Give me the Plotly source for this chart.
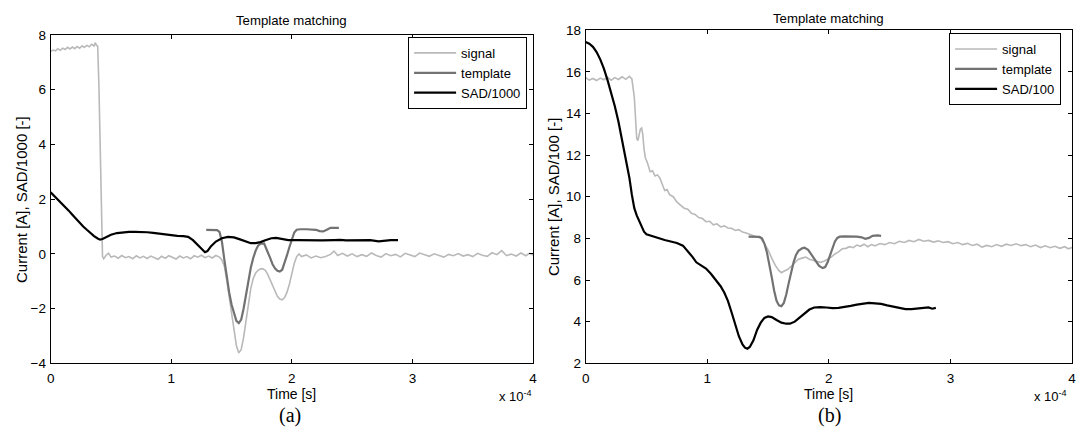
import plotly.graph_objects as go

# ---------------- data (time in units of 1e-4 s) ----------------
# panel (a)
signal_a_t = [0.00, 0.02, 0.04, 0.06, 0.08, 0.10, 0.12, 0.14, 0.16, 0.18, 0.20, 0.22, 0.24, 0.26, 0.28,
              0.30, 0.32, 0.34, 0.36, 0.37, 0.38, 0.39, 0.40, 0.41, 0.42, 0.43, 0.44, 0.46, 0.48, 0.50,
              0.53, 0.56, 0.59, 0.62, 0.65, 0.68, 0.71, 0.74, 0.77, 0.80, 0.83, 0.86, 0.89, 0.92, 0.95,
              0.98, 1.01, 1.04, 1.07, 1.10, 1.13, 1.16, 1.19, 1.22, 1.25, 1.28, 1.31, 1.34, 1.37, 1.40,
              1.42, 1.44, 1.46, 1.48, 1.50, 1.52, 1.54, 1.56, 1.58, 1.60, 1.62, 1.64, 1.66, 1.68, 1.70,
              1.72, 1.74, 1.76, 1.78, 1.80, 1.82, 1.84, 1.86, 1.88, 1.90, 1.92, 1.94, 1.96, 1.98, 2.00,
              2.02, 2.04, 2.06, 2.08, 2.12, 2.16, 2.20, 2.24, 2.28, 2.32, 2.35, 2.38, 2.42, 2.46, 2.50,
              2.54, 2.58, 2.62, 2.66, 2.70, 2.74, 2.78, 2.82, 2.86, 2.90, 2.94, 2.98, 3.02, 3.06, 3.10,
              3.14, 3.18, 3.22, 3.26, 3.30, 3.34, 3.38, 3.42, 3.46, 3.50, 3.54, 3.58, 3.62, 3.66, 3.70,
              3.74, 3.78, 3.82, 3.86, 3.90, 3.94, 3.97, 4.00]
signal_a_v = [7.40, 7.45, 7.42, 7.50, 7.44, 7.52, 7.47, 7.55, 7.49, 7.56, 7.50, 7.58, 7.52, 7.60, 7.55,
              7.62, 7.57, 7.66, 7.60, 7.72, 7.62, 7.60, 6.20, 4.00, 1.80, -0.10, -0.18, -0.05, 0.02, -0.12,
              -0.08, -0.16, -0.06, -0.14, -0.10, -0.18, -0.07, -0.15, -0.09, -0.17, -0.08, -0.14, -0.20, -0.09, -0.16,
              -0.07, -0.13, -0.19, -0.08, -0.15, -0.10, -0.18, -0.07, -0.12, -0.05, -0.14, -0.08, -0.15, -0.06, -0.12,
              -0.22, -0.45, -0.95, -1.60, -2.25, -2.85, -3.35, -3.62, -3.50, -3.05, -2.45, -1.80, -1.25, -0.90, -0.70,
              -0.60, -0.55, -0.55, -0.60, -0.75, -0.95, -1.20, -1.40, -1.55, -1.65, -1.68, -1.60, -1.40, -1.10, -0.70,
              -0.35, -0.10, 0.00, -0.10, -0.04, -0.15, -0.08, -0.14, -0.10, -0.02, 0.10, -0.06, 0.02, -0.08, 0.00,
              -0.10, -0.03, -0.09, 0.03, -0.06, -0.12, 0.01, -0.07, -0.02, -0.11, 0.02, -0.05, -0.10, 0.03, -0.04,
              -0.09, 0.00, -0.06, -0.12, -0.02, -0.07, 0.01, -0.08, -0.03, -0.10, 0.02, -0.05, -0.09, 0.04, -0.03,
              0.12, -0.06, -0.01, -0.08, 0.03, -0.07, 0.02, -0.04]

template_a_t = [1.29, 1.32, 1.35, 1.38, 1.40, 1.42, 1.44, 1.46, 1.48, 1.50, 1.52, 1.54, 1.56, 1.58, 1.60,
                1.62, 1.64, 1.66, 1.68, 1.70, 1.72, 1.74, 1.77, 1.80, 1.82, 1.84, 1.86, 1.88, 1.90, 1.92,
                1.94, 1.96, 1.98, 2.00, 2.02, 2.04, 2.07, 2.12, 2.16, 2.20, 2.23, 2.26, 2.29, 2.32, 2.36, 2.39]
template_a_v = [0.88, 0.88, 0.88, 0.87, 0.80, 0.45, -0.20, -0.85, -1.40, -1.85, -2.20, -2.45, -2.53, -2.40, -2.00,
                -1.45, -0.95, -0.50, -0.15, 0.12, 0.30, 0.37, 0.38, 0.10, -0.15, -0.38, -0.53, -0.62, -0.65, -0.58,
                -0.35, -0.05, 0.25, 0.55, 0.78, 0.88, 0.90, 0.90, 0.90, 0.88, 0.83, 0.82, 0.88, 0.95, 0.95, 0.95]

sad_a_t = [0.00, 0.03, 0.06, 0.09, 0.12, 0.15, 0.18, 0.21, 0.24, 0.27, 0.30, 0.33, 0.36, 0.39, 0.41,
           0.43, 0.46, 0.50, 0.55, 0.60, 0.65, 0.70, 0.75, 0.80, 0.85, 0.90, 0.95, 1.00, 1.05, 1.10,
           1.14, 1.18, 1.22, 1.25, 1.28, 1.30, 1.33, 1.37, 1.42, 1.47, 1.52, 1.57, 1.62, 1.66, 1.70,
           1.74, 1.78, 1.83, 1.87, 1.92, 1.97, 2.05, 2.15, 2.25, 2.35, 2.40, 2.45, 2.55, 2.65, 2.72,
           2.76, 2.82, 2.88]
sad_a_v = [2.25, 2.12, 1.98, 1.85, 1.72, 1.58, 1.43, 1.28, 1.13, 1.00, 0.88, 0.76, 0.65, 0.56, 0.52,
           0.54, 0.62, 0.70, 0.76, 0.79, 0.80, 0.80, 0.80, 0.79, 0.77, 0.74, 0.71, 0.68, 0.66, 0.65,
           0.62, 0.50, 0.33, 0.20, 0.06, 0.10, 0.28, 0.45, 0.57, 0.62, 0.60, 0.53, 0.44, 0.39, 0.39,
           0.43, 0.50, 0.57, 0.58, 0.53, 0.50, 0.50, 0.49, 0.49, 0.50, 0.51, 0.49, 0.50, 0.50, 0.46,
           0.48, 0.50, 0.50]

# panel (b)
signal_b_t = [0.00, 0.03, 0.06, 0.09, 0.12, 0.15, 0.18, 0.21, 0.24, 0.27, 0.30, 0.33, 0.36, 0.38, 0.40,
              0.41, 0.42, 0.43, 0.44, 0.45, 0.46, 0.47, 0.48, 0.49, 0.51, 0.53, 0.55, 0.57, 0.59, 0.61,
              0.63, 0.65, 0.67, 0.69, 0.72, 0.75, 0.78, 0.81, 0.84, 0.87, 0.90, 0.93, 0.96, 0.99, 1.02,
              1.05, 1.08, 1.11, 1.14, 1.17, 1.20, 1.23, 1.26, 1.29, 1.32, 1.35, 1.38, 1.41, 1.44, 1.47,
              1.50, 1.53, 1.56, 1.59, 1.61, 1.63, 1.66, 1.69, 1.72, 1.75, 1.78, 1.81, 1.84, 1.87, 1.90,
              1.93, 1.96, 1.99, 2.02, 2.05, 2.08, 2.11, 2.14, 2.17, 2.20, 2.23, 2.26, 2.29, 2.32, 2.35,
              2.38, 2.42, 2.46, 2.50, 2.54, 2.58, 2.62, 2.66, 2.70, 2.74, 2.78, 2.82, 2.86, 2.90, 2.94,
              2.98, 3.02, 3.06, 3.10, 3.14, 3.18, 3.22, 3.26, 3.30, 3.34, 3.38, 3.42, 3.46, 3.50, 3.54,
              3.58, 3.62, 3.66, 3.70, 3.74, 3.78, 3.82, 3.86, 3.90, 3.94, 3.97, 4.00]
signal_b_v = [15.72, 15.60, 15.68, 15.58, 15.70, 15.62, 15.74, 15.60, 15.72, 15.63, 15.76, 15.64, 15.78, 15.66, 14.80,
              13.60, 12.80, 12.70, 12.95, 13.25, 13.30, 13.00, 12.30, 11.90, 11.60, 11.20, 11.25, 11.00, 11.05, 10.90,
              10.60, 10.30, 10.35, 10.10, 10.00, 9.75, 9.60, 9.45, 9.40, 9.20, 9.15, 9.00, 8.95, 8.80, 8.82,
              8.65, 8.70, 8.55, 8.60, 8.50, 8.48, 8.38, 8.42, 8.30, 8.26, 8.20, 8.15, 8.08, 8.00, 7.75,
              7.45, 7.05, 6.70, 6.45, 6.35, 6.42, 6.50, 6.65, 6.85, 7.00, 7.05, 7.10, 7.00, 6.95, 6.90,
              6.85, 6.90, 7.00, 7.10, 7.25, 7.35, 7.50, 7.52, 7.60, 7.55, 7.68, 7.62, 7.72, 7.60, 7.70,
              7.64, 7.75, 7.70, 7.80, 7.74, 7.86, 7.80, 7.90, 7.84, 7.95, 7.86, 7.90, 7.82, 7.88, 7.80,
              7.84, 7.74, 7.80, 7.70, 7.76, 7.66, 7.72, 7.58, 7.66, 7.60, 7.70, 7.62, 7.72, 7.66, 7.74,
              7.65, 7.70, 7.60, 7.68, 7.56, 7.64, 7.55, 7.62, 7.52, 7.60, 7.50, 7.56]

template_b_t = [1.34, 1.37, 1.40, 1.43, 1.45, 1.47, 1.49, 1.51, 1.53, 1.55, 1.57, 1.59, 1.61, 1.63, 1.65,
                1.67, 1.69, 1.71, 1.73, 1.75, 1.78, 1.80, 1.83, 1.86, 1.89, 1.92, 1.95, 1.97, 1.99, 2.01,
                2.03, 2.05, 2.07, 2.09, 2.13, 2.18, 2.23, 2.27, 2.30, 2.33, 2.36, 2.40, 2.43]
template_b_v = [8.08, 8.08, 8.08, 8.07, 8.00, 7.75, 7.35, 6.80, 6.15, 5.50, 5.00, 4.78, 4.74, 4.90, 5.30,
                5.85, 6.40, 6.85, 7.20, 7.40, 7.52, 7.55, 7.45, 7.20, 6.90, 6.68, 6.57, 6.62, 6.85, 7.20,
                7.55, 7.85, 8.02, 8.08, 8.10, 8.10, 8.08, 8.05, 7.98, 8.02, 8.12, 8.14, 8.12]

sad_b_t = [0.00, 0.03, 0.06, 0.09, 0.12, 0.15, 0.18, 0.21, 0.24, 0.27, 0.30, 0.33, 0.36, 0.38, 0.40,
           0.42, 0.44, 0.46, 0.48, 0.50, 0.55, 0.60, 0.65, 0.70, 0.75, 0.80, 0.84, 0.88, 0.91, 0.95,
           0.99, 1.03, 1.07, 1.11, 1.14, 1.17, 1.20, 1.23, 1.26, 1.29, 1.31, 1.33, 1.35, 1.38, 1.41,
           1.44, 1.47, 1.50, 1.53, 1.57, 1.61, 1.65, 1.68, 1.72, 1.76, 1.80, 1.84, 1.88, 1.93, 1.98,
           2.03, 2.08, 2.13, 2.18, 2.23, 2.28, 2.33, 2.38, 2.43, 2.48, 2.53, 2.58, 2.63, 2.68, 2.73,
           2.78, 2.82, 2.85, 2.88]
sad_b_v = [17.43, 17.35, 17.20, 16.95, 16.60, 16.15, 15.60, 15.00, 14.35, 13.60, 12.75, 11.85, 10.90, 10.10, 9.45,
           9.10, 8.85, 8.55, 8.32, 8.20, 8.10, 8.00, 7.92, 7.85, 7.78, 7.65, 7.40, 7.10, 6.85, 6.72,
           6.55, 6.30, 6.00, 5.70, 5.40, 5.00, 4.45, 3.85, 3.30, 2.90, 2.75, 2.70, 2.78, 3.10, 3.60,
           3.95, 4.18, 4.25, 4.22, 4.08, 3.95, 3.90, 3.90, 4.00, 4.20, 4.40, 4.58, 4.68, 4.70, 4.68,
           4.65, 4.66, 4.70, 4.76, 4.82, 4.86, 4.90, 4.88, 4.85, 4.78, 4.72, 4.66, 4.60, 4.60, 4.62,
           4.65, 4.68, 4.62, 4.66]

x_ticks = [0, 1, 2, 3, 4]
x_tick_text = ["0", "1", "2", "3", "4"]

# ---------------- styling ----------------
W, H = 1077, 435
FONT = "Liberation Sans, Arial, sans-serif"
SERIF = "Liberation Serif, Times New Roman, serif"
C_SIGNAL = "#b9b9b9"
C_TEMPLATE = "#727272"
C_SAD = "#000000"

def px_x(p):
    return p / W

def px_y(p):
    return 1 - p / H

fig = go.Figure()

def add_panel(xa, ya, leg, sig_t, sig_v, tpl_t, tpl_v, sad_t, sad_v, sad_name):
    fig.add_trace(go.Scatter(x=sig_t, y=sig_v, mode="lines", name="signal",
                             line=dict(color=C_SIGNAL, width=1.6), xaxis=xa, yaxis=ya, legend=leg))
    fig.add_trace(go.Scatter(x=tpl_t, y=tpl_v, mode="lines", name="template",
                             line=dict(color=C_TEMPLATE, width=2.2), xaxis=xa, yaxis=ya, legend=leg))
    fig.add_trace(go.Scatter(x=sad_t, y=sad_v, mode="lines", name=sad_name,
                             line=dict(color=C_SAD, width=2.2), xaxis=xa, yaxis=ya, legend=leg))

add_panel("x", "y", "legend", signal_a_t, signal_a_v, template_a_t, template_a_v, sad_a_t, sad_a_v, "SAD/1000")
add_panel("x2", "y2", "legend2", signal_b_t, signal_b_v, template_b_t, template_b_v, sad_b_t, sad_b_v, "SAD/100")

axis_common = dict(showline=True, linecolor="black", linewidth=1, mirror="ticks",
                   ticks="inside", ticklen=4, tickwidth=1, tickcolor="black",
                   showgrid=False, zeroline=False,
                   tickfont=dict(family=FONT, size=13.5, color="black"))

bottom = px_y(369)
fig.update_layout(
    width=W, height=H,
    margin=dict(l=0, r=0, t=0, b=0),
    paper_bgcolor="white", plot_bgcolor="white",
    showlegend=True,
    xaxis=dict(domain=[px_x(47), px_x(533)], range=[0, 4], anchor="y",
               tickvals=x_ticks, ticktext=x_tick_text, ticklabelstandoff=3, **axis_common),
    yaxis=dict(domain=[bottom, px_y(29)], range=[-4, 8], anchor="x", dtick=2,
               ticklabelstandoff=1, **axis_common),
    xaxis2=dict(domain=[px_x(586), px_x(1076)], range=[0, 4], anchor="y2",
                tickvals=x_ticks, ticktext=x_tick_text, ticklabelstandoff=3, **axis_common),
    yaxis2=dict(domain=[bottom, px_y(24)], range=[2, 18], anchor="x2", dtick=2,
                ticklabelstandoff=1, **axis_common),
    legend=dict(x=px_x(527), xanchor="right", y=px_y(31), yanchor="top",
                bordercolor="black", borderwidth=1, bgcolor="white", itemwidth=42,
                font=dict(family=FONT, size=13, color="black"), tracegroupgap=0),
    legend2=dict(x=px_x(1065), xanchor="right", y=px_y(27), yanchor="top",
                 bordercolor="black", borderwidth=1, bgcolor="white", itemwidth=42,
                 font=dict(family=FONT, size=13, color="black"), tracegroupgap=0),
)

ann = []
def txt(x, y, text, size=13, family=FONT, angle=0, xanchor="center", yanchor="middle"):
    ann.append(dict(x=px_x(x), y=px_y(y), xref="paper", yref="paper", text=text, showarrow=False,
                    textangle=angle, xanchor=xanchor, yanchor=yanchor,
                    font=dict(family=family, size=size, color="black")))

txt(290, 14, "Template matching", size=13.2)
txt(831, 12, "Template matching", size=13.2)
txt(17, 199, "Current [A], SAD/1000 [-]", size=15, angle=-90)
txt(553, 197, "Current [A], SAD/100 [-]", size=15, angle=-90)
txt(290, 401, "Time [s]", size=14)
txt(831, 401, "Time [s]", size=14)
txt(534, 403, "x 10<sup>-4</sup>", size=13, xanchor="right")
txt(1073, 403, "x 10<sup>-4</sup>", size=13, xanchor="right")
txt(288, 423, "(a)", size=20, family=SERIF)
txt(832, 423, "(b)", size=20, family=SERIF)
fig.update_layout(annotations=ann)

fig.write_html("out.html", config={"displayModeBar": False})
